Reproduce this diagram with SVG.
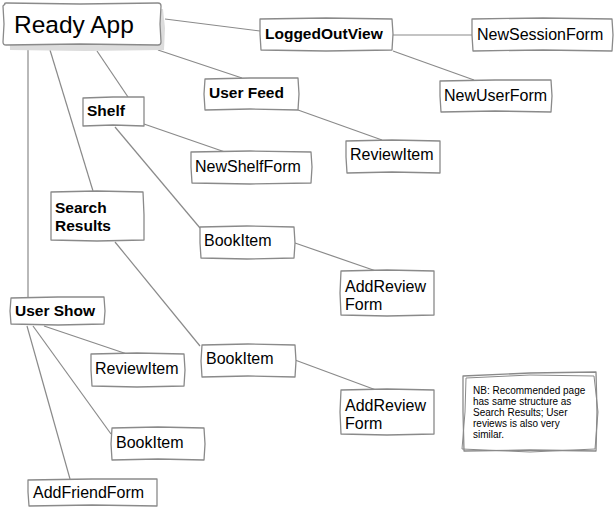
<svg xmlns="http://www.w3.org/2000/svg" width="615" height="508" viewBox="0 0 615 508">
<style>
.box{fill:#fff;stroke:#8a8a8a;stroke-width:1.3;stroke-linejoin:round}
.c line{stroke:#8a8a8a;stroke-width:1.2}
text{font-family:"Liberation Sans",Arial,sans-serif;fill:#000}
.t{font-size:16px}
.b{font-size:15.5px;font-weight:bold}
.n{font-size:10px}
</style>
<rect width="615" height="508" fill="#fff"/>
<g class="c">
<line x1="165" y1="19" x2="260" y2="31"/>
<line x1="158" y1="50" x2="242" y2="78"/>
<line x1="97" y1="51" x2="128" y2="97"/>
<line x1="50" y1="50" x2="93" y2="191"/>
<line x1="28" y1="50" x2="28" y2="297"/>
<line x1="392" y1="35" x2="472" y2="35"/>
<line x1="393" y1="51" x2="474" y2="80"/>
<line x1="298" y1="110" x2="382" y2="140"/>
<line x1="144" y1="124" x2="225" y2="152"/>
<line x1="115" y1="127" x2="200" y2="228"/>
<line x1="295" y1="243" x2="376" y2="271"/>
<line x1="115" y1="242" x2="200" y2="346"/>
<line x1="295" y1="360" x2="376" y2="390"/>
<line x1="44" y1="326" x2="127" y2="354"/>
<line x1="33" y1="326" x2="111" y2="434"/>
<line x1="27" y1="326" x2="70" y2="479"/>
</g>
<g id="ready-app">
<path d="M9,10 L85,8 L163,9 L165,28 L164,50 L85,51 L10,50 Z" fill="#dcdcdc"/>
<path class="box" d="M5,4 Q4,3 6,3 L80,4 L158,3 Q161,3 161,6 L160,24 L161,42 Q161,45 158,45 L80,44 L6,45 Q3,45 3,42 L4,24 L3,6 Z"/>
<text x="14" y="33" style="font-size:24.5px">Ready App</text>
</g>
<g id="logged-out-view">
<path class="box" d="M260,19 L326,18 L392,19 L393,34 L392,50 L326,51 L261,50 L260,34 Z"/>
<text class="b" x="265" y="39">LoggedOutView</text>
</g>
<g id="new-session-form">
<path class="box" d="M472,19 L543,18 L612,19 L613,35 L612,51 L543,50 L473,51 L472,35 Z"/>
<text class="t" x="477" y="40">NewSessionForm</text>
</g>
<g id="new-user-form">
<path class="box" d="M440,81 L495,80 L551,80 L552,96 L551,112 L495,111 L441,112 L440,96 Z"/>
<text class="t" x="444" y="101">NewUserForm</text>
</g>
<g id="user-feed">
<path class="box" d="M205,79 L250,78 L298,78 L299,94 L298,110 L250,109 L205,110 L204,94 Z"/>
<text class="b" x="209" y="98">User Feed</text>
</g>
<g id="shelf">
<path class="box" d="M83,98 L113,97 L144,97 L144,112 L144,126 L113,125 L83,126 L83,112 Z"/>
<text class="b" x="87" y="116">Shelf</text>
</g>
<g id="new-shelf-form">
<path class="box" d="M191,152 L250,151 L311,152 L312,167 L311,183 L250,184 L192,183 L191,167 Z"/>
<text class="t" x="195" y="172">NewShelfForm</text>
</g>
<g id="review-item-1">
<path class="box" d="M346,141 L392,140 L440,141 L440,157 L440,173 L392,172 L347,173 L346,157 Z"/>
<text class="t" x="350" y="160">ReviewItem</text>
</g>
<g id="search-results">
<path class="box" d="M51,192 L97,191 L143,192 L144,215 L144,240 L97,241 L51,240 L51,215 Z"/>
<text class="b" x="55" y="213">Search</text>
<text class="b" x="55" y="231">Results</text>
</g>
<g id="book-item-1">
<path class="box" d="M200,227 L247,226 L294,227 L295,243 L294,258 L247,259 L201,258 L200,243 Z"/>
<text class="t" x="204" y="246">BookItem</text>
</g>
<g id="add-review-form-1">
<path class="box" d="M341,271 L387,270 L434,271 L434,293 L434,315 L387,316 L341,315 L340,293 Z"/>
<text class="t" x="345" y="292">AddReview</text>
<text class="t" x="345" y="310">Form</text>
</g>
<g id="user-show">
<path class="box" d="M11,298 L58,297 L104,297 L105,311 L104,324 L58,325 L11,324 L10,311 Z"/>
<text class="b" x="15" y="316">User Show</text>
</g>
<g id="review-item-2">
<path class="box" d="M91,354 L137,353 L184,354 L185,370 L184,386 L137,387 L92,386 L91,370 Z"/>
<text class="t" x="95" y="374">ReviewItem</text>
</g>
<g id="book-item-2">
<path class="box" d="M202,345 L248,344 L295,345 L296,361 L295,377 L248,376 L202,377 L201,361 Z"/>
<text class="t" x="206" y="364">BookItem</text>
</g>
<g id="add-review-form-2">
<path class="box" d="M341,390 L387,389 L434,390 L434,412 L434,434 L387,435 L341,434 L340,412 Z"/>
<text class="t" x="345" y="411">AddReview</text>
<text class="t" x="345" y="429">Form</text>
</g>
<g id="book-item-3">
<path class="box" d="M112,428 L158,427 L204,428 L205,444 L204,460 L158,459 L112,460 L111,444 Z"/>
<text class="t" x="116" y="448">BookItem</text>
</g>
<g id="add-friend-form">
<path class="box" d="M28,480 L92,479 L157,479 L157,492 L157,506 L92,505 L29,506 L28,492 Z"/>
<text class="t" x="33" y="498">AddFriendForm</text>
</g>
<g id="note">
<path class="box" d="M463,376 L530,373 L596,372 L597,412 L596,451 L530,450 L464,451 L463,412 Z"/>
<path d="M466,378 L530,375 L594,376 L598,412 L595,449 L530,452 L462,449 L465,412 Z" fill="none" stroke="#8a8a8a" stroke-width="1"/>
<text class="n" x="473" y="394">NB: Recommended page</text>
<text class="n" x="473" y="405">has same structure as</text>
<text class="n" x="473" y="416">Search Results; User</text>
<text class="n" x="473" y="427">reviews is also very</text>
<text class="n" x="473" y="438">similar.</text>
</g>
</svg>
